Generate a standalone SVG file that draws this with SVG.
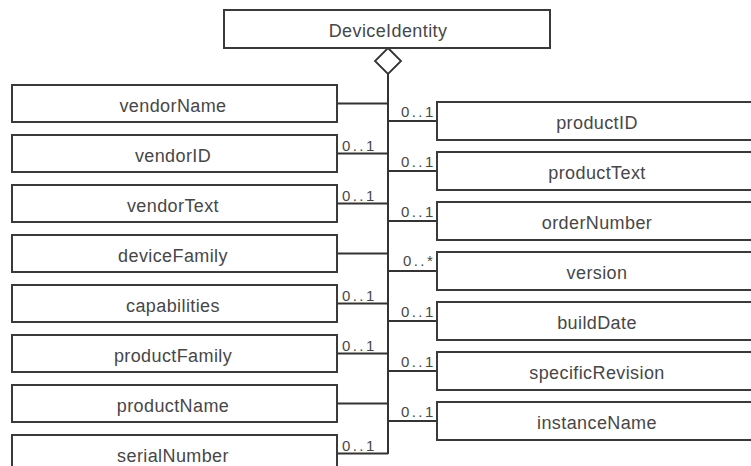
<svg xmlns="http://www.w3.org/2000/svg" width="751" height="466" viewBox="0 0 751 466">
<style>
.box{fill:#fff;stroke:#3a3a3a;stroke-width:2}
.lbl{font-family:"Liberation Sans",Arial,sans-serif;font-size:18px;letter-spacing:0.4px;fill:#474747;text-anchor:middle}
.m{font-family:"Liberation Sans",Arial,sans-serif;font-size:15px;letter-spacing:2.4px;fill:#474747}
.c{stroke:#333;stroke-width:2;fill:none}
</style>
<rect width="751" height="466" fill="#fff"/>
<g id="connectors">
<polygon points="388,48 401,61 388,74 375,61" fill="#fff" stroke="#333" stroke-width="1.8"/>
<line class="c" x1="388" y1="74" x2="388" y2="454"/>
<line class="c" x1="337" y1="103.5" x2="388" y2="103.5"/>
<line class="c" x1="337" y1="153.5" x2="388" y2="153.5"/>
<line class="c" x1="337" y1="203.5" x2="388" y2="203.5"/>
<line class="c" x1="337" y1="253.5" x2="388" y2="253.5"/>
<line class="c" x1="337" y1="303.5" x2="388" y2="303.5"/>
<line class="c" x1="337" y1="353.5" x2="388" y2="353.5"/>
<line class="c" x1="337" y1="403.5" x2="388" y2="403.5"/>
<line class="c" x1="337" y1="453.5" x2="388" y2="453.5"/>
<line class="c" x1="388" y1="121" x2="437" y2="121"/>
<line class="c" x1="388" y1="171" x2="437" y2="171"/>
<line class="c" x1="388" y1="221" x2="437" y2="221"/>
<line class="c" x1="388" y1="271" x2="437" y2="271"/>
<line class="c" x1="388" y1="321" x2="437" y2="321"/>
<line class="c" x1="388" y1="371" x2="437" y2="371"/>
<line class="c" x1="388" y1="421" x2="437" y2="421"/>
<text class="m" x="342" y="150.5">0..1</text>
<text class="m" x="342" y="200.5">0..1</text>
<text class="m" x="342" y="300.5">0..1</text>
<text class="m" x="342" y="350.5">0..1</text>
<text class="m" x="342" y="450.5">0..1</text>
<text class="m" x="401" y="117">0..1</text>
<text class="m" x="401" y="167">0..1</text>
<text class="m" x="401" y="217">0..1</text>
<text class="m" x="403" y="266">0..*</text>
<text class="m" x="401" y="317">0..1</text>
<text class="m" x="401" y="367">0..1</text>
<text class="m" x="401" y="417">0..1</text>
</g>
<g id="DeviceIdentity"><rect class="box" x="224" y="10" width="326" height="38"/><text class="lbl" x="388" y="36.7">DeviceIdentity</text></g>
<g id="vendorName"><rect class="box" x="12" y="85" width="325" height="37"/><text class="lbl" x="173" y="111.5">vendorName</text></g>
<g id="vendorID"><rect class="box" x="12" y="135" width="325" height="37"/><text class="lbl" x="173" y="161.5">vendorID</text></g>
<g id="vendorText"><rect class="box" x="12" y="185" width="325" height="37"/><text class="lbl" x="173" y="211.5">vendorText</text></g>
<g id="deviceFamily"><rect class="box" x="12" y="235" width="325" height="37"/><text class="lbl" x="173" y="261.5">deviceFamily</text></g>
<g id="capabilities"><rect class="box" x="12" y="285" width="325" height="37"/><text class="lbl" x="173" y="311.5">capabilities</text></g>
<g id="productFamily"><rect class="box" x="12" y="335" width="325" height="37"/><text class="lbl" x="173" y="361.5">productFamily</text></g>
<g id="productName"><rect class="box" x="12" y="385" width="325" height="37"/><text class="lbl" x="173" y="411.5">productName</text></g>
<g id="serialNumber"><rect class="box" x="12" y="435" width="325" height="37"/><text class="lbl" x="173" y="461.5">serialNumber</text></g>
<g id="productID"><rect class="box" x="437" y="102" width="320" height="38"/><text class="lbl" x="597" y="129">productID</text></g>
<g id="productText"><rect class="box" x="437" y="152" width="320" height="38"/><text class="lbl" x="597" y="179">productText</text></g>
<g id="orderNumber"><rect class="box" x="437" y="202" width="320" height="38"/><text class="lbl" x="597" y="229">orderNumber</text></g>
<g id="version"><rect class="box" x="437" y="252" width="320" height="38"/><text class="lbl" x="597" y="279">version</text></g>
<g id="buildDate"><rect class="box" x="437" y="302" width="320" height="38"/><text class="lbl" x="597" y="329">buildDate</text></g>
<g id="specificRevision"><rect class="box" x="437" y="352" width="320" height="38"/><text class="lbl" x="597" y="379">specificRevision</text></g>
<g id="instanceName"><rect class="box" x="437" y="402" width="320" height="38"/><text class="lbl" x="597" y="429">instanceName</text></g>
</svg>
